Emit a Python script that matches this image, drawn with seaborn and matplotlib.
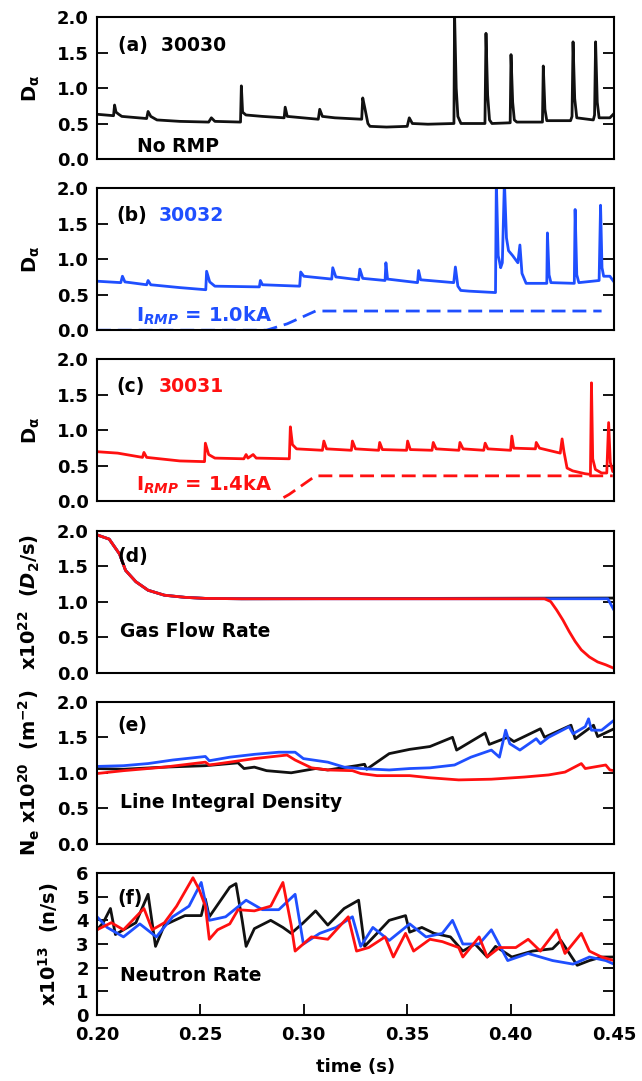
import numpy as np
import pandas as pd
import matplotlib
matplotlib.use("Agg")
import matplotlib.pyplot as plt
import seaborn as sns

BLACK = "#111111"
BLUE = "#1f4fff"
RED = "#ff1010"

# (a) 30030 D-alpha, no RMP
a_t = [0.2000, 0.2080, 0.2085, 0.2092, 0.2105, 0.2120, 0.2240, 0.2247, 0.2260, 0.2290, 0.2400,
       0.2540, 0.2553, 0.2570, 0.2694, 0.2698, 0.2704, 0.2720, 0.2800, 0.2905, 0.2910, 0.2920,
       0.3070, 0.3077, 0.3090, 0.3150, 0.3280, 0.3285, 0.3295, 0.3310, 0.3320, 0.3400, 0.3500,
       0.3510, 0.3525, 0.3600, 0.3726, 0.3729, 0.3737, 0.3745, 0.3760, 0.3876, 0.3881, 0.3889,
       0.3898, 0.3910, 0.3998, 0.4002, 0.4010, 0.4018, 0.4030, 0.4154, 0.4158, 0.4166, 0.4175,
       0.4290, 0.4297, 0.4302, 0.4310, 0.4320, 0.4400, 0.4406, 0.4411, 0.4419, 0.4428, 0.4480, 0.4500]
a_v = [0.63, 0.61, 0.76, 0.66, 0.63, 0.60, 0.57, 0.67, 0.60, 0.55, 0.53,
       0.52, 0.58, 0.53, 0.52, 1.03, 0.66, 0.62, 0.60, 0.58, 0.73, 0.60,
       0.56, 0.70, 0.60, 0.58, 0.56, 0.86, 0.72, 0.50, 0.46, 0.45, 0.46,
       0.58, 0.50, 0.49, 0.50, 2.05, 1.00, 0.60, 0.50, 0.50, 1.77, 0.90,
       0.55, 0.50, 0.51, 1.47, 0.80, 0.55, 0.52, 0.52, 1.31, 0.70, 0.54,
       0.54, 0.60, 1.65, 0.85, 0.58, 0.55, 0.62, 1.65, 0.80, 0.58, 0.58, 0.64]

# (b) 30032 D-alpha, I_RMP = 1.0 kA
b_t = [0.2000, 0.2115, 0.2123, 0.2135, 0.2240, 0.2247, 0.2260, 0.2400, 0.2526, 0.2530, 0.2545,
       0.2570, 0.2785, 0.2790, 0.2800, 0.2980, 0.2985, 0.3000, 0.3135, 0.3140, 0.3155, 0.3265,
       0.3271, 0.3285, 0.3393, 0.3397, 0.3405, 0.3550, 0.3555, 0.3565, 0.3725, 0.3733, 0.3745,
       0.3759, 0.3800, 0.3927, 0.3931, 0.3940, 0.3946, 0.3952, 0.3960, 0.3970, 0.3980, 0.3990,
       0.4010, 0.4035, 0.4045, 0.4055, 0.4075, 0.4175, 0.4178, 0.4186, 0.4195, 0.4308, 0.4312,
       0.4320, 0.4330, 0.4428, 0.4435, 0.4442, 0.4450, 0.4480, 0.4500]
b_v = [0.69, 0.67, 0.76, 0.68, 0.64, 0.70, 0.64, 0.60, 0.57, 0.83, 0.68,
       0.62, 0.61, 0.70, 0.64, 0.62, 0.82, 0.76, 0.72, 0.88, 0.75, 0.71,
       0.86, 0.73, 0.70, 0.95, 0.72, 0.67, 0.84, 0.71, 0.67, 0.89, 0.62,
       0.56, 0.55, 0.53, 2.10, 1.05, 0.97, 0.88, 0.95, 2.10, 1.30, 1.12,
       1.05, 0.95, 1.20, 0.80, 0.66, 0.66, 1.37, 0.78, 0.67, 0.66, 1.70,
       0.78, 0.67, 0.70, 1.76, 0.88, 0.76, 0.76, 0.68]
b_rmp_t = [0.2000, 0.2820, 0.2920, 0.3057, 0.4440]
b_rmp_v = [0.00, 0.00, 0.09, 0.27, 0.27]

# (c) 30031 D-alpha, I_RMP = 1.4 kA
c_t = [0.2000, 0.2100, 0.2220, 0.2227, 0.2240, 0.2400, 0.2520, 0.2524, 0.2540, 0.2570, 0.2710,
       0.2721, 0.2730, 0.2755, 0.2770, 0.2930, 0.2935, 0.2945, 0.2965, 0.3090, 0.3097, 0.3110,
       0.3230, 0.3235, 0.3250, 0.3362, 0.3367, 0.3380, 0.3497, 0.3502, 0.3515, 0.3620, 0.3626,
       0.3640, 0.3750, 0.3755, 0.3770, 0.3870, 0.3877, 0.3890, 0.4000, 0.4006, 0.4015, 0.4120,
       0.4124, 0.4140, 0.4240, 0.4249, 0.4258, 0.4273, 0.4300, 0.4360, 0.4386, 0.4391, 0.4397,
       0.4410, 0.4440, 0.4465, 0.4474, 0.4482, 0.4494]
c_v = [0.70, 0.68, 0.62, 0.69, 0.62, 0.57, 0.56, 0.82, 0.66, 0.61, 0.60,
       0.66, 0.61, 0.66, 0.61, 0.60, 1.05, 0.80, 0.74, 0.72, 0.85, 0.74,
       0.72, 0.85, 0.74, 0.72, 0.83, 0.73, 0.72, 0.85, 0.73, 0.72, 0.83,
       0.74, 0.72, 0.83, 0.74, 0.72, 0.82, 0.74, 0.72, 0.92, 0.75, 0.74,
       0.83, 0.75, 0.68, 0.88, 0.70, 0.47, 0.43, 0.39, 0.38, 1.67, 0.60,
       0.45, 0.40, 0.40, 1.11, 0.55, 0.42]
c_rmp_t = [0.2000, 0.2870, 0.2930, 0.3057, 0.4494]
c_rmp_v = [0.00, 0.00, 0.10, 0.36, 0.36]

# (d) gas flow rate, x1e22 D2/s
d_t_head = [0.2000, 0.2059, 0.2109, 0.2138, 0.2188, 0.2247, 0.2326, 0.2425, 0.2524, 0.2700]
d_v_head = [1.94, 1.88, 1.67, 1.44, 1.28, 1.16, 1.09, 1.06, 1.045, 1.04]
d_black_t = d_t_head + [0.4500]
d_black_v = d_v_head + [1.05]
d_blue_t = d_t_head + [0.4470, 0.4500]
d_blue_v = d_v_head + [1.04, 0.88]
d_red_t = d_t_head + [0.4164, 0.4194, 0.4223, 0.4253, 0.4283, 0.4312, 0.4342, 0.4381, 0.4421,
                      0.4460, 0.4500]
d_red_v = d_v_head + [1.04, 1.00, 0.88, 0.74, 0.58, 0.44, 0.32, 0.22, 0.15, 0.11, 0.06]

# (e) line integral density, x1e20 m^-2
e_black_t = [0.2000, 0.2128, 0.2326, 0.2524, 0.2682, 0.2711, 0.2761, 0.2820, 0.2939, 0.3057,
             0.3116, 0.3255, 0.3294, 0.3304, 0.3413, 0.3512, 0.3610, 0.3719, 0.3739, 0.3877,
             0.3897, 0.3986, 0.4016, 0.4144, 0.4164, 0.4292, 0.4312, 0.4401, 0.4421, 0.4500]
e_black_v = [1.06, 1.05, 1.08, 1.10, 1.14, 1.06, 1.08, 1.03, 1.00, 1.06,
             1.04, 1.10, 1.12, 1.05, 1.27, 1.33, 1.37, 1.50, 1.32, 1.56,
             1.40, 1.50, 1.44, 1.62, 1.50, 1.67, 1.48, 1.67, 1.51, 1.62]
e_blue_t = [0.2000, 0.2128, 0.2247, 0.2366, 0.2524, 0.2543, 0.2642, 0.2761, 0.2879, 0.2958,
            0.2998, 0.3116, 0.3195, 0.3275, 0.3413, 0.3512, 0.3610, 0.3729, 0.3808, 0.3907,
            0.3946, 0.3976, 0.3996, 0.4045, 0.4124, 0.4144, 0.4184, 0.4283, 0.4302, 0.4361,
            0.4377, 0.4391, 0.4440, 0.4500]
e_blue_v = [1.09, 1.10, 1.13, 1.18, 1.23, 1.17, 1.22, 1.26, 1.29, 1.29,
            1.20, 1.15, 1.08, 1.06, 1.04, 1.06, 1.07, 1.11, 1.22, 1.32,
            1.22, 1.60, 1.41, 1.32, 1.48, 1.41, 1.50, 1.65, 1.55, 1.65,
            1.76, 1.60, 1.60, 1.74]
e_red_t = [0.2000, 0.2128, 0.2326, 0.2524, 0.2543, 0.2642, 0.2761, 0.2919, 0.2958, 0.3037,
           0.3116, 0.3235, 0.3275, 0.3354, 0.3512, 0.3610, 0.3749, 0.3907, 0.4065, 0.4184,
           0.4263, 0.4342, 0.4361, 0.4460, 0.4480, 0.4500]
e_red_v = [0.99, 1.03, 1.08, 1.15, 1.11, 1.15, 1.20, 1.25, 1.18, 1.07,
           1.04, 1.03, 0.99, 0.96, 0.96, 0.93, 0.90, 0.91, 0.94, 0.97,
           1.01, 1.13, 1.06, 1.11, 1.04, 1.03]

# (f) neutron rate, x1e13 n/s
f_black_t = [0.2000, 0.2030, 0.2065, 0.2089, 0.2128, 0.2188, 0.2247, 0.2283, 0.2326, 0.2425,
             0.2504, 0.2524, 0.2543, 0.2642, 0.2672, 0.2702, 0.2721, 0.2761, 0.2840, 0.2899,
             0.2939, 0.2998, 0.3057, 0.3116, 0.3195, 0.3265, 0.3294, 0.3354, 0.3413, 0.3492,
             0.3512, 0.3571, 0.3630, 0.3709, 0.3769, 0.3828, 0.3887, 0.3927, 0.4006, 0.4105,
             0.4203, 0.4243, 0.4322, 0.4381, 0.4440, 0.4500]
f_black_v = [3.6, 3.9, 4.5, 3.4, 3.6, 3.9, 5.1, 2.9, 3.8, 4.2,
             4.2, 4.9, 4.15, 5.4, 5.55, 4.0, 2.9, 3.65, 4.0, 3.7,
             3.45, 3.9, 4.4, 3.8, 4.5, 4.85, 2.9, 3.45, 4.0, 4.2,
             3.5, 3.7, 3.45, 3.3, 2.7, 3.0, 2.45, 2.9, 2.45, 2.7,
             2.8, 3.15, 2.1, 2.3, 2.45, 2.45]
f_blue_t = [0.2000, 0.2049, 0.2128, 0.2207, 0.2287, 0.2366, 0.2445, 0.2504, 0.2543, 0.2622,
            0.2721, 0.2800, 0.2879, 0.2958, 0.2998, 0.3077, 0.3156, 0.3235, 0.3275, 0.3334,
            0.3413, 0.3512, 0.3591, 0.3670, 0.3719, 0.3769, 0.3848, 0.3907, 0.3986, 0.4085,
            0.4203, 0.4302, 0.4381, 0.4460, 0.4500]
f_blue_v = [4.15, 3.7, 3.3, 3.85, 3.3, 4.15, 4.6, 5.6, 4.0, 4.15,
            4.85, 4.45, 4.45, 5.1, 3.0, 3.45, 3.7, 4.15, 2.9, 3.7,
            3.15, 3.85, 3.3, 3.45, 4.0, 3.0, 3.0, 3.6, 2.3, 2.6,
            2.3, 2.15, 2.45, 2.3, 2.15]
f_red_t = [0.2000, 0.2069, 0.2128, 0.2227, 0.2267, 0.2326, 0.2385, 0.2464, 0.2494, 0.2524,
           0.2543, 0.2583, 0.2642, 0.2682, 0.2761, 0.2840, 0.2899, 0.2939, 0.2958, 0.3037,
           0.3116, 0.3215, 0.3255, 0.3314, 0.3393, 0.3433, 0.3492, 0.3531, 0.3610, 0.3670,
           0.3749, 0.3769, 0.3848, 0.3887, 0.3946, 0.4025, 0.4085, 0.4144, 0.4223, 0.4263,
           0.4342, 0.4381, 0.4440, 0.4500]
f_red_v = [3.6, 3.9, 3.6, 4.5, 3.6, 3.9, 4.6, 5.8, 5.3, 4.6,
           3.2, 3.6, 3.85, 4.45, 4.4, 4.6, 5.6, 3.8, 2.7, 3.3,
           3.2, 4.15, 2.7, 2.85, 3.3, 2.45, 3.45, 2.7, 3.2, 3.1,
           2.85, 2.45, 3.3, 2.45, 2.85, 2.85, 3.2, 2.7, 3.6, 2.6,
           3.45, 2.7, 2.45, 2.3]

sns.set_style("ticks")
plt.rcParams["font.family"] = ["DejaVu Sans"]
plt.rcParams["font.weight"] = "bold"
plt.rcParams["mathtext.default"] = "bf"
plt.rcParams["axes.linewidth"] = 1.5
plt.rcParams["xtick.color"] = "black"
plt.rcParams["ytick.color"] = "black"
plt.rcParams["axes.labelcolor"] = "black"
plt.rcParams["text.color"] = "black"

fig = plt.figure(figsize=(6.42, 10.81), dpi=100)
W, H = 642.0, 1081.0
axes = []
for i in range(6):
    top = 17 + 171.2 * i
    ax = fig.add_axes([97 / W, 1 - (top + 142) / H, 517 / W, 142 / H])
    axes.append(ax)

FS = 12.5
TFS = 13.5
LFS = 14
LW = 2.0


def trace(ax, t, v, color, **kw):
    sns.lineplot(x=t, y=v, ax=ax, color=color, linewidth=kw.pop("lw", LW),
                 estimator=None, sort=False, **kw)


def style(ax, ymax, yticks, ylabel, bottom=False):
    ax.set_xlim(0.2, 0.45)
    ax.set_ylim(0, ymax)
    ax.set_yticks(yticks)
    ax.set_xticks([0.20, 0.25, 0.30, 0.35, 0.40, 0.45])
    ax.tick_params(axis="y", direction="in", left=True, right=True, length=8, width=1.3,
                   labelsize=FS + 0.5, pad=6, colors="black")
    if bottom:
        ax.tick_params(axis="x", direction="in", bottom=True, top=False, length=8, width=1.3,
                       labelsize=FS + 0.5, pad=8, colors="black")
        ax.set_xticklabels(["0.20", "0.25", "0.30", "0.35", "0.40", "0.45"], fontweight="bold")
        ax.set_xlabel("time (s)", fontsize=FS + 0.5, fontweight="bold", labelpad=10)
    else:
        ax.tick_params(axis="x", bottom=False, labelbottom=False)
        ax.set_xlabel("")
    for lab in ax.get_yticklabels():
        lab.set_fontweight("bold")
    ax.set_ylabel(ylabel, fontsize=LFS, fontweight="bold", labelpad=11)
    for s in ax.spines.values():
        s.set_visible(True)
        s.set_linewidth(1.5)
        s.set_color("black")


dash = (0, (5, 2.5))

# (a)
ax = axes[0]
trace(ax, a_t, a_v, BLACK)
style(ax, 2.0, [0.0, 0.5, 1.0, 1.5, 2.0], r"D$_{\alpha}$")
ax.text(0.040, 0.80, "(a)  30030", transform=ax.transAxes, fontsize=TFS, color="black", va="center")
ax.text(0.078, 0.09, "No RMP", transform=ax.transAxes, fontsize=TFS, color="black", va="center")

# (b)
ax = axes[1]
trace(ax, b_rmp_t, b_rmp_v, BLUE, linestyle=dash)
trace(ax, b_t, b_v, BLUE)
style(ax, 2.0, [0.0, 0.5, 1.0, 1.5, 2.0], r"D$_{\alpha}$")
ax.text(0.037, 0.81, "(b)", transform=ax.transAxes, fontsize=TFS, color="black", va="center")
ax.text(0.120, 0.81, "30032", transform=ax.transAxes, fontsize=TFS, color=BLUE, va="center")
ax.text(0.075, 0.10, r"I$_{\mathit{RMP}}$ = 1.0kA", transform=ax.transAxes, fontsize=TFS + 0.5,
        color=BLUE, va="center")

# (c)
ax = axes[2]
trace(ax, c_rmp_t, c_rmp_v, RED, linestyle=dash)
trace(ax, c_t, c_v, RED)
style(ax, 2.0, [0.0, 0.5, 1.0, 1.5, 2.0], r"D$_{\alpha}$")
ax.text(0.037, 0.81, "(c)", transform=ax.transAxes, fontsize=TFS, color="black", va="center")
ax.text(0.120, 0.81, "30031", transform=ax.transAxes, fontsize=TFS, color=RED, va="center")
ax.text(0.075, 0.12, r"I$_{\mathit{RMP}}$ = 1.4kA", transform=ax.transAxes, fontsize=TFS + 0.5,
        color=RED, va="center")

# (d)
ax = axes[3]
trace(ax, d_black_t, d_black_v, BLACK)
trace(ax, d_blue_t, d_blue_v, BLUE)
trace(ax, d_red_t, d_red_v, RED)
style(ax, 2.0, [0.0, 0.5, 1.0, 1.5, 2.0], r"x10$^{22}$  ($\mathit{D}_2$/s)")
ax.text(0.040, 0.82, "(d)", transform=ax.transAxes, fontsize=TFS, color="black", va="center")
ax.text(0.045, 0.29, "Gas Flow Rate", transform=ax.transAxes, fontsize=TFS, color="black",
        va="center")

# (e)
ax = axes[4]
trace(ax, e_black_t, e_black_v, BLACK)
trace(ax, e_blue_t, e_blue_v, BLUE)
trace(ax, e_red_t, e_red_v, RED)
style(ax, 2.0, [0.0, 0.5, 1.0, 1.5, 2.0], r"N$_e$ x10$^{20}$  (m$^{-2}$)")
ax.text(0.040, 0.83, "(e)", transform=ax.transAxes, fontsize=TFS, color="black", va="center")
ax.text(0.045, 0.29, "Line Integral Density", transform=ax.transAxes, fontsize=TFS,
        color="black", va="center")

# (f)
ax = axes[5]
trace(ax, f_black_t, f_black_v, BLACK)
trace(ax, f_blue_t, f_blue_v, BLUE)
trace(ax, f_red_t, f_red_v, RED)
style(ax, 6, [0, 1, 2, 3, 4, 5, 6], r"x10$^{13}$  (n/s)", bottom=True)
ax.text(0.040, 0.82, "(f)", transform=ax.transAxes, fontsize=TFS, color="black", va="center")
ax.text(0.045, 0.28, "Neutron Rate", transform=ax.transAxes, fontsize=TFS, color="black",
        va="center")

fig.savefig("out.png", dpi=100)
